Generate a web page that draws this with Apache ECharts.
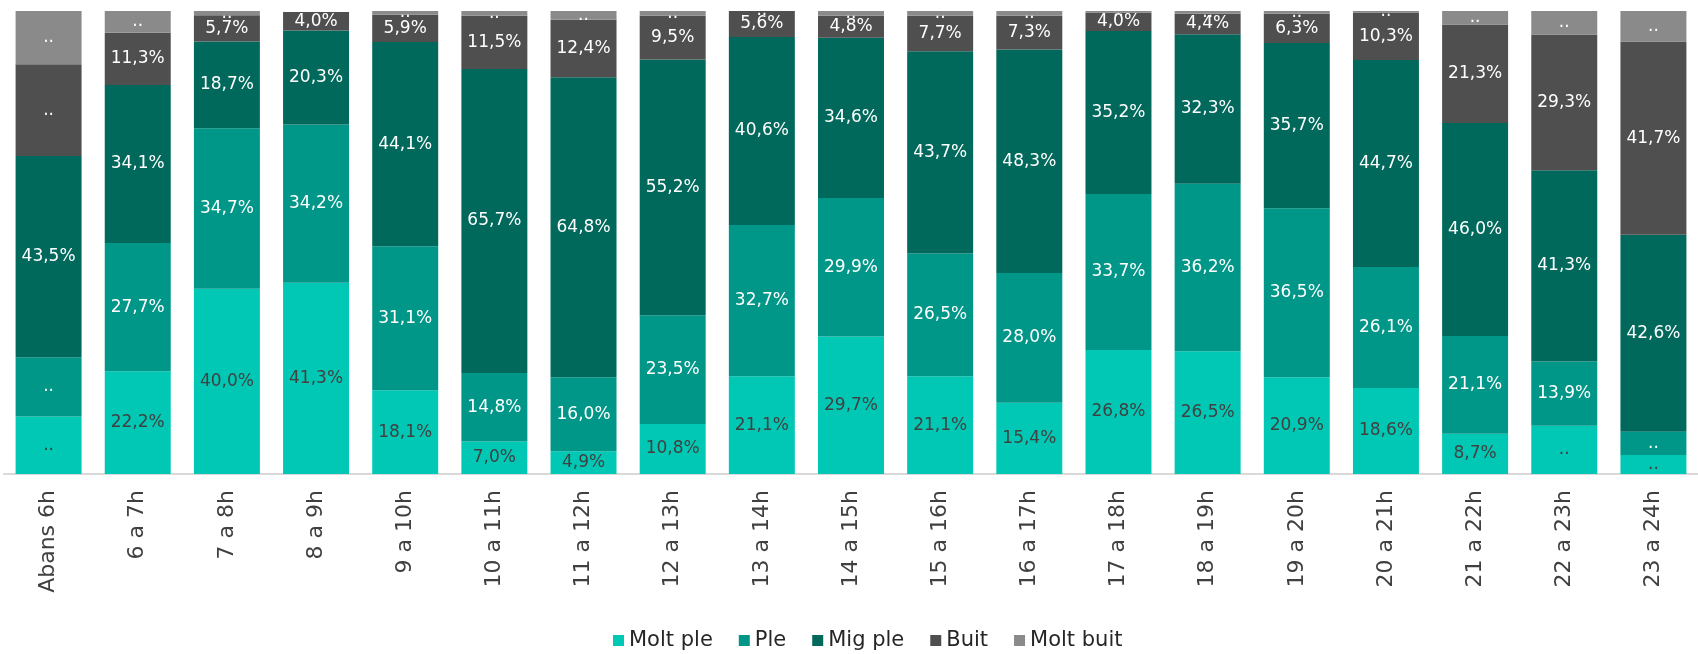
<!DOCTYPE html>
<html>
<head>
<meta charset="utf-8">
<script src="https://cdn.jsdelivr.net/npm/echarts@6/dist/echarts.min.js"></script>
<style>
  html, body { margin: 0; padding: 0; background: #fff; }
  #chart { width: 1698px; height: 654px; }
</style>
</head>
<body>
<div id="chart"></div>
<script>
  const categories = ['Abans 6h', '6 a 7h', '7 a 8h', '8 a 9h', '9 a 10h', '10 a 11h', '11 a 12h',
    '12 a 13h', '13 a 14h', '14 a 15h', '15 a 16h', '16 a 17h', '17 a 18h', '18 a 19h',
    '19 a 20h', '20 a 21h', '21 a 22h', '22 a 23h', '23 a 24h']

  const moltPle = [12.4, 22.2, 40.0, 41.3, 18.1, 7.0, 4.9, 10.8, 21.1, 29.7, 21.1, 15.4, 26.8, 26.5, 20.9, 18.6, 8.7, 10.4, 4.1]
  const ple = [12.8, 27.7, 34.7, 34.2, 31.1, 14.8, 16.0, 23.5, 32.7, 29.9, 26.5, 28.0, 33.7, 36.2, 36.5, 26.1, 21.1, 13.9, 5.0]
  const migPle = [43.5, 34.1, 18.7, 20.3, 44.1, 65.7, 64.8, 55.2, 40.6, 34.6, 43.7, 48.3, 35.2, 32.3, 35.7, 44.7, 46.0, 41.3, 42.6]
  const buit = [19.8, 11.3, 5.7, 4.0, 5.9, 11.5, 12.4, 9.5, 5.6, 4.8, 7.7, 7.3, 4.0, 4.4, 6.3, 10.3, 21.3, 29.3, 41.7]
  const moltBuit = [11.5, 4.7, 0.9, 0, 0.8, 1.0, 1.9, 1.0, 0.1, 1.0, 1.0, 1.0, 0.3, 0.6, 0.6, 0.3, 2.9, 5.1, 6.6]

  // indexes of categories whose value is not published (shown as "..")
  const moltPleHidden = [0, 17, 18]
  const pleHidden = [0, 18]
  const migPleHidden = []
  const buitHidden = [0]
  const moltBuitHidden = [0, 1, 2, 4, 5, 6, 7, 8, 9, 10, 11, 12, 13, 14, 15, 16, 17, 18]

  const makeSeries = (name, values, hidden, color, labelColor) => ({
    name,
    type: 'bar',
    stack: 'total',
    barWidth: '74%',
    itemStyle: { color },
    label: {
      show: true,
      position: 'inside',
      color: labelColor,
      fontFamily: 'DejaVu Sans',
      fontSize: 17,
      formatter: p => {
        if (hidden.includes(p.dataIndex)) return '..'
        if (!p.value) return ''
        return p.value.toFixed(1).replace('.', ',') + '%'
      }
    },
    data: values
  })

  const chart = echarts.init(document.getElementById('chart'))

  const option = {
    animation: false,
    grid: { left: 4, top: 11, width: 1711, bottom: 180 },
    legend: {
      bottom: -2,
      left: 608,
      itemWidth: 11,
      itemHeight: 11,
      itemGap: 26,
      icon: 'rect',
      textStyle: { fontFamily: 'DejaVu Sans', fontSize: 21, color: '#262626' }
    },
    xAxis: {
      type: 'category',
      data: categories,
      axisLine: { lineStyle: { color: '#d9d9d9', width: 2 } },
      axisTick: { show: false },
      axisLabel: {
        rotate: 90,
        margin: 16,
        interval: 0,
        color: '#404040',
        fontFamily: 'DejaVu Sans',
        fontSize: 22
      }
    },
    yAxis: {
      type: 'value',
      min: 0,
      max: 100,
      show: false
    },
    series: [
      makeSeries('Molt ple', moltPle, moltPleHidden, '#00c8b4', '#404040'),
      makeSeries('Ple', ple, pleHidden, '#009688', '#ffffff'),
      makeSeries('Mig ple', migPle, migPleHidden, '#00695c', '#ffffff'),
      makeSeries('Buit', buit, buitHidden, '#4f4f4f', '#ffffff'),
      makeSeries('Molt buit', moltBuit, moltBuitHidden, '#8a8a8a', '#ffffff')
    ]
  }

  chart.setOption(option)
</script>
</body>
</html>
